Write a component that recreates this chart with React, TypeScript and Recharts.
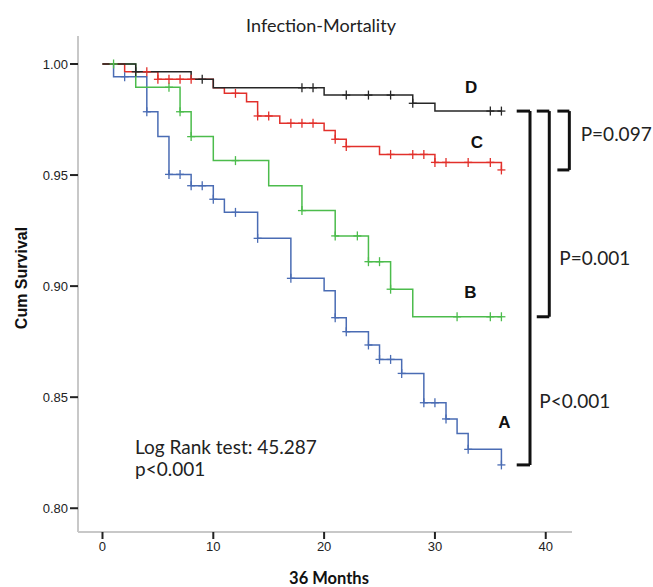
import React from 'react';
import { ComposedChart, Line, Scatter, XAxis, YAxis, ReferenceLine } from 'recharts';

// step curves: time of each drop (months) and survival after it
const timesD = [0, 3, 8, 10, 20, 28, 30, 36];
const survD = [1.0, 0.9965, 0.9931, 0.9893, 0.986, 0.9823, 0.9788, 0.9788];
const censorD = [3, 9, 18, 19, 22, 24, 26, 28, 35, 36];

const timesC = [0, 2, 5, 10, 11, 13, 14, 16, 20, 21, 22, 25, 30, 36];
const survC = [1.0, 0.9965, 0.9931, 0.9893, 0.9868, 0.983, 0.9766, 0.9733, 0.97, 0.9661, 0.9628, 0.9593, 0.9557, 0.9523];
const censorC = [4, 5, 6, 7, 8, 12, 14, 15, 17, 18, 19, 21, 22, 26, 28, 29, 30, 31, 33, 35, 36];

const timesB = [0, 3, 7, 8, 10, 15, 18, 21, 24, 26, 28, 36];
const survB = [1.0, 0.9895, 0.9785, 0.9673, 0.9565, 0.9452, 0.934, 0.9226, 0.911, 0.8986, 0.8862, 0.8862];
const censorB = [1, 6, 7, 8, 12, 18, 21, 23, 24, 25, 26, 32, 35, 36];

const timesA = [0, 1, 4, 5, 6, 8, 10, 11, 14, 17, 20, 21, 22, 24, 25, 27, 29, 31, 32, 33, 36];
const survA = [1.0, 0.9943, 0.9785, 0.9673, 0.9503, 0.9452, 0.9391, 0.9332, 0.9215, 0.9035, 0.8979, 0.8858, 0.8795, 0.8735, 0.867, 0.8607, 0.8475, 0.8402, 0.8337, 0.8265, 0.8195];
const censorA = [2, 4, 6, 7, 8, 9, 10, 12, 14, 17, 21, 22, 24, 25, 26, 27, 29, 30, 31, 33, 36];

const xTicks = [0, 10, 20, 30, 40];
const yTicks = [0.8, 0.85, 0.9, 0.95, 1.0];

const COLORS = { A: '#4a6cb4', B: '#4cbc4c', C: '#e2302b', D: '#262626' };

const toSteps = (t: number[], s: number[]) => t.map((x, i) => ({ x, y: s[i] }));
const levelAt = (t: number[], s: number[], x: number) => {
  let v = s[0];
  t.forEach((tt, i) => { if (tt <= x) v = s[i]; });
  return v;
};
const toCensor = (c: number[], t: number[], s: number[]) => c.map((x) => ({ x, y: levelAt(t, s, x) }));

const Plus = (color: string) => (props: any) => {
  const { cx, cy } = props;
  return (
    <g stroke={color} strokeWidth={1.3}>
      <line x1={cx - 4} x2={cx + 4} y1={cy} y2={cy} />
      <line x1={cx} x2={cx} y1={cy - 4.5} y2={cy + 4.5} />
    </g>
  );
};

const groups = [
  { key: 'A', t: timesA, s: survA, c: censorA },
  { key: 'B', t: timesB, s: survB, c: censorB },
  { key: 'C', t: timesC, s: survC, c: censorC },
  { key: 'D', t: timesD, s: survD, c: censorD },
];

const endD = survD[survD.length - 1];
const endC = survC[survC.length - 1];
const endB = survB[survB.length - 1];
const endA = survA[survA.length - 1];

// brackets: [x left, x right, y top, y bottom]
const brackets = [
  [37.38, 38.58, endD, endA],
  [39.19, 40.32, endD, endB],
  [41.05, 42.13, endD, endC],
];

const bracketStyle = { stroke: '#111', strokeWidth: 3 };

const App = () => {
  return (
    <div style={{ position: 'absolute', left: 0, top: 0, width: 653, height: 587, background: '#fff' }}>
      <ComposedChart width={653} height={587} margin={{ top: 36, right: 81, left: 0, bottom: 0 }}>
        <XAxis
          dataKey="x"
          type="number"
          domain={[-2.21, 42.37]}
          allowDataOverflow
          ticks={xTicks}
          height={55}
          tickSize={7}
          tickMargin={3}
          axisLine={{ stroke: '#c8c8c8', strokeWidth: 2 }}
          tickLine={{ stroke: '#222', strokeWidth: 2 }}
          tick={{ fill: '#222', fontFamily: 'Liberation Sans', fontSize: 13 }}
        />
        <YAxis
          dataKey="y"
          type="number"
          domain={[0.7893, 1.0126]}
          allowDataOverflow
          ticks={yTicks}
          width={78}
          tickSize={8}
          tickMargin={2}
          tickFormatter={(v: number) => v.toFixed(2)}
          axisLine={{ stroke: '#c8c8c8', strokeWidth: 2 }}
          tickLine={{ stroke: '#222', strokeWidth: 2 }}
          tick={{ fill: '#222', fontFamily: 'Liberation Sans', fontSize: 13 }}
        />
        {groups.map((g) => (
          <Line
            key={`line-${g.key}`}
            data={toSteps(g.t, g.s)}
            dataKey="y"
            type="stepAfter"
            stroke={COLORS[g.key as keyof typeof COLORS]}
            strokeWidth={1.5}
            dot={false}
            activeDot={false}
            isAnimationActive={false}
          />
        ))}
        {groups.map((g) => (
          <Scatter
            key={`cens-${g.key}`}
            data={toCensor(g.c, g.t, g.s)}
            dataKey="y"
            shape={Plus(COLORS[g.key as keyof typeof COLORS])}
            isAnimationActive={false}
          />
        ))}
        {brackets.map(([x1, x2, yt, yb], i) => (
          <React.Fragment key={`br-${i}`}>
            <ReferenceLine segment={[{ x: x1, y: yt }, { x: x2, y: yt }]} ifOverflow="visible" {...bracketStyle} />
            <ReferenceLine segment={[{ x: x2, y: yt }, { x: x2, y: yb }]} ifOverflow="visible" {...bracketStyle} />
            <ReferenceLine segment={[{ x: x1, y: yb }, { x: x2, y: yb }]} ifOverflow="visible" {...bracketStyle} />
          </React.Fragment>
        ))}
      </ComposedChart>
      <svg width={653} height={587} style={{ position: 'absolute', left: 0, top: 0, pointerEvents: 'none' }}>
        <text x={321} y={31.5} textAnchor="middle" fontFamily="Lato" fontSize={18} fill="#222">Infection-Mortality</text>
        <text x={26.5} y={278} transform="rotate(-90 26.5 278)" textAnchor="middle" fontFamily="Liberation Sans" fontWeight="bold" fontSize={16} fill="#111">Cum Survival</text>
        <text x={329} y={584} textAnchor="middle" fontFamily="Lato" fontWeight="bold" fontSize={16.5} fill="#111">36 Months</text>
        <text x={135} y={454.3} fontFamily="Lato" fontSize={19} fill="#222">Log Rank test: 45.287</text>
        <text x={135} y={475.5} fontFamily="Lato" fontSize={19} fill="#222">p&lt;0.001</text>
        <g fontFamily="Liberation Sans" fontWeight="bold" fontSize={17} fill="#111">
          <text x={465} y={93}>D</text>
          <text x={470.7} y={148.3}>C</text>
          <text x={464.3} y={298.3}>B</text>
          <text x={498.3} y={428.3}>A</text>
        </g>
        <g fontFamily="Lato" fontSize={19} fill="#222">
          <text x={580.7} y={140.7}>P=0.097</text>
          <text x={559.3} y={265}>P=0.001</text>
          <text x={539.3} y={408.3}>P&lt;0.001</text>
        </g>
      </svg>
    </div>
  );
};

export default App;
